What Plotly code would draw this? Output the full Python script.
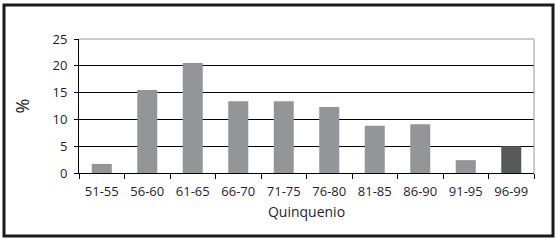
import plotly.graph_objects as go

categories = ["51-55", "56-60", "61-65", "66-70", "71-75", "76-80", "81-85", "86-90", "91-95", "96-99"]
values = [1.7, 15.5, 20.5, 13.4, 13.4, 12.3, 8.8, 9.1, 2.4, 5.0]
bar_colors = ["#939598"] * 9 + ["#58595b"]
y_ticks = [0, 5, 10, 15, 20, 25]

W, H = 556, 241
L, R, T, B = 79, 22, 39, 68
pw, ph = W - L - R, H - T - B

def px_x(x):
    return (x - L) / pw

def px_y(y):
    return (H - B - y) / ph

text_color = "#1e1e2e"
font = "Open Sans"

fig = go.Figure(go.Bar(
    x=categories, y=values, marker=dict(color=bar_colors, line=dict(width=0)),
    width=0.44,
))

fig.update_layout(
    width=W, height=H,
    margin=dict(l=L, r=R, t=T, b=B, pad=0),
    paper_bgcolor="white", plot_bgcolor="white",
    showlegend=False,
    font=dict(family=font, size=13, color=text_color),
    xaxis=dict(
        showline=True, linecolor="black", linewidth=1,
        ticks="outside", ticklen=5, tickcolor="black", tickwidth=1,
        tickson="boundaries", showgrid=False,
        tickfont=dict(size=13, color=text_color),
        ticklabelstandoff=6,
        title=dict(text="Quinquenio", font=dict(size=14, color=text_color), standoff=8),
    ),
    yaxis=dict(
        range=[0, 25], tickvals=y_ticks,
        showline=True, linecolor="black", linewidth=1,
        ticks="outside", ticklen=4, tickcolor="black", tickwidth=1,
        showgrid=True, gridcolor="black", gridwidth=1,
        zeroline=False,
        ticklabelstandoff=4,
        tickfont=dict(size=13, color=text_color),
        title=dict(text="%", font=dict(size=18, color=text_color), standoff=18),
    ),
    shapes=[
        dict(type="line", xref="paper", yref="paper", x0=0, x1=1, y0=1, y1=1,
             line=dict(color="#9a9a9a", width=1), layer="above"),
        dict(type="line", xref="paper", yref="paper", x0=1, x1=1, y0=0, y1=1,
             line=dict(color="#9a9a9a", width=1), layer="above"),
        dict(type="rect", xref="paper", yref="paper",
             x0=px_x(4), x1=px_x(553), y0=px_y(236), y1=px_y(5),
             line=dict(color="#1a1a1a", width=3), fillcolor="rgba(0,0,0,0)"),
    ],
)

fig.write_html("out.html", config={"displayModeBar": False},
               post_script="document.body.style.margin='0';document.body.style.overflow='hidden';")
